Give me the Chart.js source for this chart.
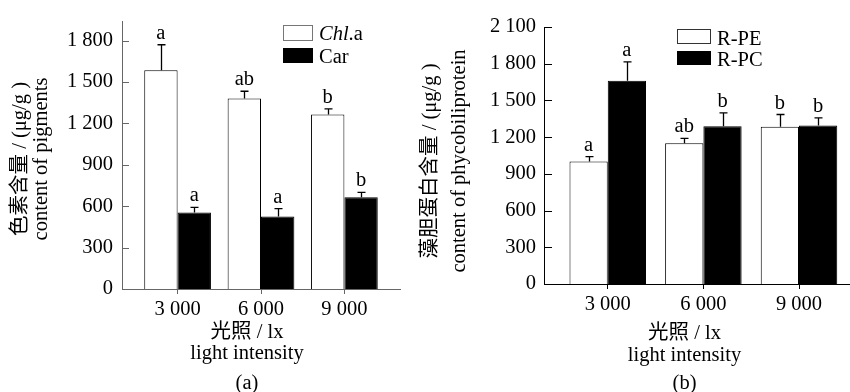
<!DOCTYPE html>
<html><head><meta charset="utf-8">
<script src="https://cdn.jsdelivr.net/npm/chart.js@4/dist/chart.umd.min.js"></script>
<style>
html,body{margin:0;padding:0;background:#fff;}
#wrap{position:relative;width:850px;height:392px;overflow:hidden;background:#fff;}
canvas{position:absolute;top:0;}
#c1{left:0px;}
#c2{left:410px;}
</style></head><body>
<div id="wrap">
<canvas id="c1" width="425" height="392"></canvas>
<canvas id="c2" width="440" height="392"></canvas>
</div>
<script>
// ---- data ----
const lightLevels = [3000, 6000, 9000];
// (a) pigments
const chlA = [1585, 1380, 1265];
const chlAErr = [185, 53, 40];
const chlALetters = ['a', 'ab', 'b'];
const car = [555, 525, 665];
const carErr = [36, 57, 35];
const carLetters = ['a', 'a', 'b'];
const yTicksA = [0, 300, 600, 900, 1200, 1500, 1800];
// (b) phycobiliprotein
const rpe = [1000, 1150, 1285];
const rpeErr = [40, 40, 100];
const rpeLetters = ['a', 'ab', 'b'];
const rpc = [1660, 1290, 1295];
const rpcErr = [155, 108, 62];
const rpcLetters = ['a', 'b', 'b'];
const yTicksB = [0, 300, 600, 900, 1200, 1500, 1800, 2100];

const FONT = "'Liberation Serif','Noto Sans CJK SC',serif";
const SIZE = 20.5;
function fmt(v) { return String(v).replace(/\B(?=(\d{3})+(?!\d))/g, ' '); }

function makeDecor(cfg) {
  return {
    id: 'decor',
    afterDatasetsDraw(chart) {
      const ctx = chart.ctx, ca = chart.chartArea, ys = chart.scales.y;
      ctx.save();
      // inward y tick marks
      ctx.strokeStyle = cfg.axisColor; ctx.lineWidth = 1;
      ys.ticks.forEach(t => {
        const py = Math.round(ys.getPixelForValue(t.value)) + 0.5;
        ctx.beginPath(); ctx.moveTo(ca.left, py); ctx.lineTo(ca.left + cfg.tickLen, py); ctx.stroke();
      });
      // error bars + significance letters
      ctx.font = SIZE + 'px ' + FONT;
      cfg.series.forEach((s, di) => {
        const meta = chart.getDatasetMeta(di);
        meta.data.forEach((bar, i) => {
          const base = ys.getPixelForValue(s.values[i]);
          const top = ys.getPixelForValue(s.values[i] + s.err[i]);
          const x = Math.round(bar.x) + 0.5;
          ctx.strokeStyle = '#000'; ctx.lineWidth = 1.3;
          ctx.beginPath();
          ctx.moveTo(x, base); ctx.lineTo(x, top);
          ctx.moveTo(x - cfg.cap, top); ctx.lineTo(x + cfg.cap, top);
          ctx.stroke();
          ctx.fillStyle = '#000'; ctx.textAlign = 'center'; ctx.textBaseline = 'alphabetic';
          ctx.fillText(s.letters[i], bar.x, top - cfg.letterGap);
        });
      });
      // legend
      cfg.legend.forEach((l, k) => {
        const s = cfg.series[k];
        ctx.fillStyle = s.fill; ctx.fillRect(l.x, l.y, l.w, l.h);
        if (s.fill === '#ffffff') { ctx.strokeStyle = cfg.legendBorder; ctx.lineWidth = 1; ctx.strokeRect(l.x + 0.5, l.y + 0.5, l.w - 1, l.h - 1); }
        let tx = l.x + l.w + 6;
        ctx.fillStyle = '#000'; ctx.textAlign = 'left'; ctx.textBaseline = 'alphabetic';
        s.labelParts.forEach(p => {
          ctx.font = (p.italic ? 'italic ' : '') + SIZE + 'px ' + FONT;
          ctx.fillText(p.t, tx, l.base);
          tx += ctx.measureText(p.t).width;
        });
      });
      // axis titles
      ctx.font = SIZE + 'px ' + FONT;
      ctx.fillStyle = '#000';
      const cx = (ca.left + ca.right) / 2 + cfg.xShift;
      ctx.textAlign = 'center'; ctx.textBaseline = 'alphabetic';
      cfg.xTitle.forEach(l => ctx.fillText(l.t, cx, l.y));
      cfg.yTitle.forEach(l => {
        ctx.save(); ctx.translate(l.x, cfg.yCenter); ctx.rotate(-Math.PI / 2);
        ctx.textAlign = 'center'; ctx.textBaseline = 'middle';
        ctx.fillText(l.t, 0, 0); ctx.restore();
      });
      ctx.restore();
    }
  };
}

function makeChart(id, cfg) {
  return new Chart(document.getElementById(id), {
    type: 'bar',
    data: {
      datasets: cfg.series.map(s => ({
        label: s.label,
        data: lightLevels.map((x, i) => ({ x: x, y: s.values[i] })),
        backgroundColor: s.fill,
        borderColor: '#000',
        borderWidth: 1,
        borderSkipped: 'start'
      }))
    },
    options: {
      responsive: false, animation: false, devicePixelRatio: 1,
      layout: { padding: cfg.padding },
      datasets: { bar: { categoryPercentage: 0.8, barPercentage: 1 } },
      plugins: { legend: { display: false }, tooltip: { enabled: false } },
      scales: {
        x: {
          type: 'linear', min: 1000, max: cfg.xMax, offset: false,
          afterBuildTicks: s => { s.ticks = lightLevels.map(v => ({ value: v })); },
          afterFit: s => { s.height = 30; },
          grid: { offset: false, drawOnChartArea: false, drawTicks: true, tickLength: 5, color: cfg.axisColor },
          border: { display: true, color: cfg.axisColor, width: 1 },
          ticks: { font: { family: FONT, size: SIZE }, color: '#000', padding: 3, maxRotation: 0, autoSkip: false, callback: v => fmt(v) }
        },
        y: {
          min: 0, max: cfg.yMax,
          afterBuildTicks: s => { s.ticks = cfg.yTicks.map(v => ({ value: v })); },
          afterFit: s => { s.width = cfg.yWidth; },
          grid: { display: false, drawTicks: false, tickLength: 0 },
          border: { display: true, color: cfg.axisColor, width: 1 },
          ticks: { font: { family: FONT, size: SIZE }, color: '#000', padding: cfg.yPad, callback: v => fmt(v) }
        }
      }
    },
    plugins: [makeDecor(cfg)]
  });
}

makeChart('c1', {
  padding: { left: 0, top: 14, right: 25, bottom: 73 },
  yWidth: 122, yPad: 9, xMax: 11000, yMax: 1940, yTicks: yTicksA,
  axisColor: '#666', legendBorder: '#777', tickLen: 7, cap: 4, letterGap: 6,
  series: [
    { label: 'Chl.a', labelParts: [{ t: 'Chl', italic: true }, { t: '.a' }], values: chlA, err: chlAErr, letters: chlALetters, fill: '#ffffff' },
    { label: 'Car', labelParts: [{ t: 'Car' }], values: car, err: carErr, letters: carLetters, fill: '#000000' }
  ],
  legend: [ { x: 283, y: 25, w: 30, h: 16, base: 40 }, { x: 283, y: 48, w: 30, h: 15, base: 62.5 } ],
  xShift: -14,
  xTitle: [ { t: '光照 / lx', y: 338 }, { t: 'light intensity', y: 359 }, { t: '(a)', y: 389 } ],
  yTitle: [ { t: '色素含量 / (μg/g )', x: 21 }, { t: 'content of pigments', x: 42 } ],
  yCenter: 159
});

makeChart('c2', {
  padding: { left: 0, top: 27, right: 0, bottom: 78 },
  yWidth: 134, yPad: 8, xMax: 10600, yMax: 2100, yTicks: yTicksB,
  axisColor: '#000', legendBorder: '#333', tickLen: 8, cap: 4, letterGap: 6,
  series: [
    { label: 'R-PE', labelParts: [{ t: 'R-PE' }], values: rpe, err: rpeErr, letters: rpeLetters, fill: '#ffffff' },
    { label: 'R-PC', labelParts: [{ t: 'R-PC' }], values: rpc, err: rpcErr, letters: rpcLetters, fill: '#000000' }
  ],
  legend: [ { x: 267, y: 29, w: 34, h: 15, base: 45 }, { x: 267, y: 51, w: 34, h: 14, base: 65.5 } ],
  xShift: -12.5,
  xTitle: [ { t: '光照 / lx', y: 339 }, { t: 'light intensity', y: 360.5 }, { t: '(b)', y: 389 } ],
  yTitle: [ { t: '藻胆蛋白含量 / (μg/g )', x: 21 }, { t: 'content of phycobiliprotein', x: 50 } ],
  yCenter: 161
});
</script>
</body></html>
